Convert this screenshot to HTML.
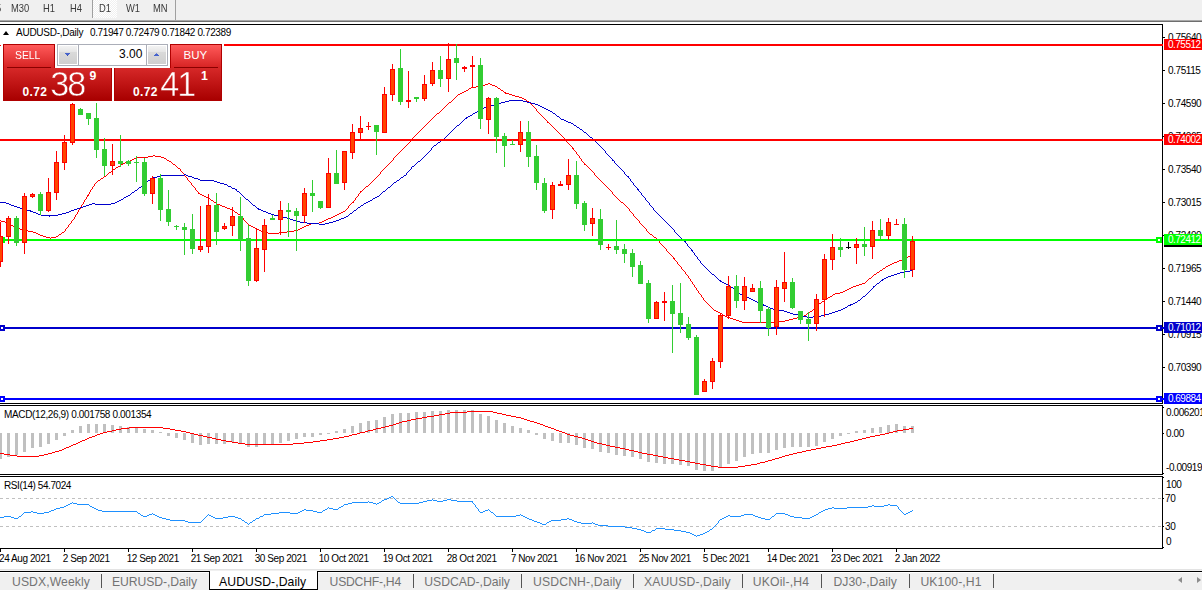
<!DOCTYPE html>
<html><head><meta charset="utf-8"><title>AUDUSD Daily</title>
<style>
html,body{margin:0;padding:0;}
body{width:1202px;height:590px;position:relative;overflow:hidden;background:#fff;font-family:"Liberation Sans",sans-serif;}
#tbar{position:absolute;left:0;top:0;width:1202px;height:20px;background:#F0F0F0;}
#tbar .sh1{position:absolute;left:0;top:20px;width:1202px;height:1px;background:#A9A9A9;}
#tbar .sh2{position:absolute;left:0;top:21px;width:1202px;height:1px;background:#6E6E6E;}
#tbar span{position:absolute;top:3px;font-size:10.2px;color:#3A3A3A;line-height:11px;white-space:nowrap;transform:scaleX(0.92);transform-origin:0 50%;}
#tbar .vs{position:absolute;top:0;width:1px;height:18px;background:#A0A0A0;}
#tbar .d1{position:absolute;left:93px;top:0;width:24px;height:18px;background:repeating-conic-gradient(#FFFFFF 0% 25%,#F0F0F0 0% 50%) 0 0/2px 2px;}
svg{position:absolute;left:0;top:0;}
.ax{position:absolute;left:1168px;font-size:10px;line-height:11px;color:#000;white-space:nowrap;letter-spacing:-0.42px;}
.bx{position:absolute;left:1164px;width:38px;height:11px;box-sizing:border-box;overflow:hidden;}
.bx span{position:absolute;left:4px;top:0;font-size:10px;line-height:11px;white-space:nowrap;letter-spacing:-0.52px;}
.dt{position:absolute;top:553px;font-size:10px;line-height:11px;color:#000;white-space:nowrap;letter-spacing:-0.42px;}
.info{position:absolute;left:16px;top:26.8px;font-size:10px;line-height:11px;color:#000;white-space:pre;transform-origin:0 50%;}
#tri{position:absolute;left:3px;top:31px;width:0;height:0;border-left:3.5px solid transparent;border-right:3.5px solid transparent;border-bottom:4.5px solid #000;}
.pl{position:absolute;left:3px;font-size:10px;line-height:11px;color:#000;white-space:nowrap;transform-origin:0 50%;}
#tabs{position:absolute;left:0;top:570px;width:1202px;height:20px;background:#F0F0F0;}
#tabs .top{position:absolute;left:0;top:1px;width:1202px;height:1px;background:#000;border-bottom:1px solid #fff;}
#tabs .hl{position:absolute;left:0;top:-1px;width:1202px;height:1px;background:#E3E3E3;}
#tabs .actbg{position:absolute;left:209px;top:1px;width:109px;height:19px;background:#fff;border-left:1px solid #000;border-right:1px solid #000;border-bottom:1px solid #000;box-sizing:border-box;}
.tb{position:absolute;top:4px;font-size:12.2px;line-height:16px;color:#737373;white-space:nowrap;transform-origin:0 50%;}
.tb.act{color:#000;}
.sep{position:absolute;top:4px;width:1px;height:14px;background:#555;}
.arr{position:absolute;top:7px;width:0;height:0;border-top:3px solid transparent;border-bottom:3px solid transparent;}
/* trade panel */
#tp{position:absolute;left:0;top:0;}
.red{position:absolute;background:linear-gradient(#FF5A5A,#D42020);border:1px solid #B00000;box-sizing:border-box;}
.red2{position:absolute;background:linear-gradient(#D62828,#A80000);border:1px solid #B00000;border-top:none;box-sizing:border-box;}
.wt{position:absolute;color:#fff;white-space:nowrap;}
</style></head><body>
<div id="tbar"><div class="d1"></div><div class="sh1"></div><div class="sh2"></div>
<span style="left:-4.3px">5</span><span style="left:11px">M30</span><span style="left:43px">H1</span><span style="left:70px">H4</span>
<i class="vs" style="left:92px"></i><span style="left:99px">D1</span><span style="left:126px">W1</span><span style="left:153px">MN</span><i class="vs" style="left:175px;height:20px"></i></div>
<svg width="1202" height="590" viewBox="0 0 1202 590" shape-rendering="crispEdges">
<path d="M720 313h2v1h-2zM807 313h2v1h-2zM36 233h2v1h-2zM268 233h11v1h-11zM897 261h2v1h-2zM716 311h2v1h-2zM810 311h2v1h-2zM5 222h3v1h-3zM319 222h3v1h-3zM1 221h4v1h-4zM322 221h2v1h-2zM714 310h2v1h-2zM469 88h2v1h-2zM498 88h2v1h-2zM38 234h2v1h-2zM59 234h2v1h-2zM650 234h2v1h-2zM908 256h2v1h-2zM458 94h2v1h-2zM509 94h3v1h-3zM742 322h37v1h-37zM136 157h12v1h-12zM161 157h3v1h-3zM845 290h2v1h-2zM222 206h3v1h-3zM733 319h3v1h-3zM789 319h4v1h-4zM28 231h5v1h-5zM261 231h3v1h-3zM287 231h7v1h-7zM33 232h3v1h-3zM62 232h2v1h-2zM264 232h4v1h-4zM279 232h8v1h-8zM673 258h2v1h-2zM904 258h2v1h-2zM482 85h3v1h-3zM492 85h3v1h-3zM813 309h2v1h-2zM220 205h2v1h-2zM116 167h2v1h-2zM853 286h3v1h-3zM476 86h6v1h-6zM495 86h2v1h-2zM736 320h3v1h-3zM785 320h4v1h-4zM727 317h3v1h-3zM797 317h4v1h-4zM331 217h2v1h-2zM40 235h3v1h-3zM217 204h3v1h-3zM527 101h2v1h-2zM851 287h2v1h-2zM739 321h3v1h-3zM779 321h6v1h-6zM488 83h2v1h-2zM869 278h2v1h-2zM109 172h2v1h-2zM449 102h2v1h-2zM512 95h3v1h-3zM23 230h5v1h-5zM259 230h2v1h-2zM294 230h4v1h-4zM856 285h3v1h-3zM888 265h2v1h-2zM880 270h2v1h-2zM8 223h2v1h-2zM311 223h8v1h-8zM198 193h2v1h-2zM123 163h2v1h-2zM235 212h2v1h-2zM341 212h2v1h-2zM485 84h3v1h-3zM490 84h2v1h-2zM437 113h2v1h-2zM723 315h2v1h-2zM804 315h2v1h-2zM15 227h3v1h-3zM253 227h2v1h-2zM302 227h2v1h-2zM46 237h4v1h-4zM51 237h5v1h-5zM654 237h2v1h-2zM214 202h2v1h-2zM352 202h2v1h-2zM621 202h2v1h-2zM830 296h2v1h-2zM339 213h2v1h-2zM18 228h2v1h-2zM255 228h2v1h-2zM300 228h2v1h-2zM515 96h4v1h-4zM366 186h2v1h-2zM125 162h3v1h-3zM840 292h3v1h-3zM232 210h2v1h-2zM20 229h3v1h-3zM257 229h2v1h-2zM298 229h2v1h-2zM13 226h2v1h-2zM251 226h2v1h-2zM304 226h2v1h-2zM326 219h2v1h-2zM11 225h2v1h-2zM249 225h2v1h-2zM306 225h3v1h-3zM101 178h2v1h-2zM886 266h2v1h-2zM899 260h3v1h-3zM200 194h2v1h-2zM225 207h2v1h-2zM324 220h2v1h-2zM309 224h2v1h-2zM230 209h2v1h-2zM877 272h2v1h-2zM238 214h2v1h-2zM337 214h2v1h-2zM822 301h2v1h-2zM132 159h2v1h-2zM118 166h2v1h-2zM519 97h3v1h-3zM113 169h2v1h-2zM835 293h5v1h-5zM471 87h5v1h-5zM730 318h3v1h-3zM793 318h4v1h-4zM121 164h2v1h-2zM173 164h2v1h-2zM584 164h2v1h-2zM572 148h2v1h-2zM819 303h2v1h-2zM43 236h3v1h-3zM56 236h2v1h-2zM178 168h2v1h-2zM862 283h3v1h-3zM206 197h2v1h-2zM894 262h3v1h-3zM328 218h3v1h-3zM859 284h3v1h-3zM87 195h2v1h-2zM202 195h2v1h-2zM333 216h2v1h-2zM153 155h2v1h-2zM98 180h2v1h-2zM462 92h2v1h-2zM504 92h2v1h-2zM148 156h5v1h-5zM155 156h6v1h-6zM906 257h2v1h-2zM910 255h2v1h-2zM134 158h2v1h-2zM164 158h2v1h-2zM204 196h2v1h-2zM883 268h2v1h-2zM828 297h2v1h-2zM460 93h2v1h-2zM505 93h4v1h-4zM847 289h2v1h-2zM725 316h2v1h-2zM801 316h3v1h-3zM833 294h2v1h-2zM208 198h2v1h-2zM130 160h2v1h-2zM167 160h2v1h-2zM128 161h2v1h-2zM169 161h2v1h-2zM902 259h2v1h-2zM849 288h2v1h-2zM360 191h2v1h-2zM104 176h2v1h-2zM825 299h2v1h-2zM335 215h2v1h-2zM718 312h2v1h-2zM466 90h2v1h-2zM501 90h2v1h-2zM343 211h2v1h-2zM227 208h3v1h-3zM522 98h2v1h-2zM524 99h2v1h-2zM211 200h2v1h-2zM874 274h2v1h-2zM547 122h2v1h-2zM843 291h2v1h-2zM892 263h2v1h-2zM464 91h2v1h-2zM890 264h2v1h-2zM61 233h1v1h-1zM649 233h1v1h-1zM706 302h1v1h-1zM821 302h1v1h-1zM676 261h1v1h-1zM71 221h1v2h-1zM246 222h1v1h-1zM639 221h1v2h-1zM441 110h1v1h-1zM536 109h1v2h-1zM245 221h1v1h-1zM410 141h1v1h-1zM566 140h1v2h-1zM691 281h1v1h-1zM866 281h1v1h-1zM812 310h1v1h-1zM672 256h1v1h-1zM394 157h1v1h-1zM579 156h1v2h-1zM697 290h1v1h-1zM81 205h1v2h-1zM348 206h1v2h-1zM626 206h1v1h-1zM712 308h1v1h-1zM815 308h1v1h-1zM661 244h1v1h-1zM64 231h1v1h-1zM647 231h1v1h-1zM648 232h1v1h-1zM90 190h1v2h-1zM196 190h1v1h-1zM362 190h1v1h-1zM610 190h1v1h-1zM402 149h1v1h-1zM573 149h1v1h-1zM713 309h1v1h-1zM662 245h1v1h-1zM418 132h1v1h-1zM558 132h1v1h-1zM349 205h1v1h-1zM625 205h1v1h-1zM177 167h1v1h-1zM385 167h1v1h-1zM588 167h1v1h-1zM694 285h1v2h-1zM106 175h1v1h-1zM184 174h1v2h-1zM378 175h1v1h-1zM595 175h1v1h-1zM398 153h1v1h-1zM576 152h1v2h-1zM74 217h1v2h-1zM242 217h1v1h-1zM635 217h1v1h-1zM58 235h1v1h-1zM652 235h1v1h-1zM82 204h1v1h-1zM350 204h1v1h-1zM624 204h1v1h-1zM451 101h1v1h-1zM695 287h1v1h-1zM100 179h1v1h-1zM187 178h1v2h-1zM374 179h1v1h-1zM599 179h1v1h-1zM689 278h1v1h-1zM182 172h1v1h-1zM380 172h1v2h-1zM593 172h1v1h-1zM529 102h1v1h-1zM457 95h1v1h-1zM65 229h1v2h-1zM646 229h1v2h-1zM679 265h1v1h-1zM664 247h1v1h-1zM683 270h1v1h-1zM70 223h1v1h-1zM247 223h1v1h-1zM640 223h1v1h-1zM89 192h1v2h-1zM359 193h1v1h-1zM612 192h1v2h-1zM172 163h1v1h-1zM389 163h1v1h-1zM584 163h1v1h-1zM77 212h1v2h-1zM631 212h1v1h-1zM687 275h1v1h-1zM873 275h1v1h-1zM539 113h1v1h-1zM67 227h1v1h-1zM644 227h1v1h-1zM91 189h1v1h-1zM195 188h1v2h-1zM363 189h1v1h-1zM609 189h1v1h-1zM83 202h1v2h-1zM681 267h1v2h-1zM885 267h1v1h-1zM701 295h1v2h-1zM711 307h1v1h-1zM816 307h1v1h-1zM237 213h1v1h-1zM632 213h1v1h-1zM66 228h1v1h-1zM645 228h1v1h-1zM456 96h1v1h-1zM442 109h1v1h-1zM93 186h1v1h-1zM193 186h1v1h-1zM606 186h1v1h-1zM171 162h1v1h-1zM390 162h1v1h-1zM583 162h1v1h-1zM698 291h1v2h-1zM78 210h1v2h-1zM345 210h1v1h-1zM629 209h1v2h-1zM68 225h1v2h-1zM643 226h1v1h-1zM73 219h1v1h-1zM243 218h1v2h-1zM637 219h1v1h-1zM642 225h1v1h-1zM111 171h1v1h-1zM181 171h1v1h-1zM381 171h1v1h-1zM592 171h1v1h-1zM375 178h1v1h-1zM598 178h1v1h-1zM680 266h1v1h-1zM675 260h1v1h-1zM425 125h1v1h-1zM551 125h1v1h-1zM88 194h1v1h-1zM358 194h1v2h-1zM613 194h1v1h-1zM690 279h1v2h-1zM868 279h1v1h-1zM80 207h1v2h-1zM627 207h1v1h-1zM433 117h1v1h-1zM543 117h1v1h-1zM0 220h1v1h-1zM72 220h1v1h-1zM244 220h1v1h-1zM638 220h1v1h-1zM216 203h1v1h-1zM351 203h1v1h-1zM623 203h1v1h-1zM10 224h1v1h-1zM69 224h1v1h-1zM248 224h1v1h-1zM641 224h1v1h-1zM79 209h1v1h-1zM346 209h1v1h-1zM85 199h1v1h-1zM210 199h1v1h-1zM355 198h1v2h-1zM618 199h1v1h-1zM685 272h1v2h-1zM76 214h1v1h-1zM633 214h1v2h-1zM705 301h1v1h-1zM166 159h1v1h-1zM393 158h1v2h-1zM581 159h1v2h-1zM84 200h1v2h-1zM213 201h1v1h-1zM353 201h1v1h-1zM620 201h1v1h-1zM413 137h1v1h-1zM563 137h1v1h-1zM426 124h1v1h-1zM550 124h1v1h-1zM107 174h1v1h-1zM379 174h1v1h-1zM594 173h1v2h-1zM176 166h1v1h-1zM386 166h1v1h-1zM587 166h1v1h-1zM455 97h1v1h-1zM180 169h1v2h-1zM383 169h1v1h-1zM590 169h1v1h-1zM699 293h1v1h-1zM497 87h1v1h-1zM703 298h1v2h-1zM827 298h1v1h-1zM388 164h1v1h-1zM403 148h1v1h-1zM448 103h1v1h-1zM530 103h1v1h-1zM443 108h1v1h-1zM535 108h1v1h-1zM707 303h1v1h-1zM112 170h1v1h-1zM382 170h1v1h-1zM591 170h1v1h-1zM412 138h1v2h-1zM565 139h1v1h-1zM653 236h1v1h-1zM115 168h1v1h-1zM384 168h1v1h-1zM589 168h1v1h-1zM92 187h1v2h-1zM364 188h1v1h-1zM608 188h1v1h-1zM692 282h1v2h-1zM86 197h1v2h-1zM356 197h1v1h-1zM616 197h1v1h-1zM452 100h1v1h-1zM526 100h1v1h-1zM419 131h1v1h-1zM557 131h1v1h-1zM677 262h1v2h-1zM432 118h1v1h-1zM544 118h1v1h-1zM636 218h1v1h-1zM693 284h1v1h-1zM405 146h1v1h-1zM571 146h1v1h-1zM614 195h1v1h-1zM75 215h1v2h-1zM241 216h1v1h-1zM634 216h1v1h-1zM396 155h1v1h-1zM578 155h1v1h-1zM188 180h1v1h-1zM373 180h1v1h-1zM600 180h1v1h-1zM94 184h1v2h-1zM192 185h1v1h-1zM368 185h1v1h-1zM605 185h1v1h-1zM395 156h1v1h-1zM420 130h1v1h-1zM556 130h1v1h-1zM673 257h1v1h-1zM671 255h1v1h-1zM708 304h1v1h-1zM818 304h1v2h-1zM96 182h1v1h-1zM190 182h1v1h-1zM371 182h1v1h-1zM602 182h1v1h-1zM580 158h1v1h-1zM87 196h1v1h-1zM357 196h1v1h-1zM615 196h1v1h-1zM684 271h1v1h-1zM879 271h1v1h-1zM95 183h1v1h-1zM191 183h1v2h-1zM370 183h1v1h-1zM603 183h1v1h-1zM404 147h1v1h-1zM572 147h1v1h-1zM682 269h1v1h-1zM882 269h1v1h-1zM722 314h1v1h-1zM806 314h1v1h-1zM198 192h1v1h-1zM360 192h1v1h-1zM702 297h1v1h-1zM696 288h1v2h-1zM700 294h1v1h-1zM617 198h1v1h-1zM392 160h1v1h-1zM391 161h1v1h-1zM582 161h1v1h-1zM670 254h1v1h-1zM912 254h1v1h-1zM674 259h1v1h-1zM436 114h1v1h-1zM540 114h1v1h-1zM564 138h1v1h-1zM427 123h1v1h-1zM549 123h1v1h-1zM400 151h1v1h-1zM575 151h1v1h-1zM197 191h1v1h-1zM611 191h1v1h-1zM439 112h1v1h-1zM538 112h1v1h-1zM185 176h1v1h-1zM377 176h1v1h-1zM596 176h1v1h-1zM424 126h1v1h-1zM552 126h1v1h-1zM415 135h1v1h-1zM561 135h1v1h-1zM663 246h1v1h-1zM865 282h1v1h-1zM709 305h1v1h-1zM431 119h1v1h-1zM545 119h1v1h-1zM103 177h1v1h-1zM186 177h1v1h-1zM376 177h1v1h-1zM597 177h1v1h-1zM430 120h1v1h-1zM546 120h1v1h-1zM240 215h1v1h-1zM120 165h1v1h-1zM175 165h1v1h-1zM387 165h1v1h-1zM586 165h1v1h-1zM809 312h1v1h-1zM108 173h1v1h-1zM183 173h1v1h-1zM468 89h1v1h-1zM500 89h1v1h-1zM447 104h1v1h-1zM531 104h1v1h-1zM407 144h1v1h-1zM569 144h1v1h-1zM401 150h1v1h-1zM574 150h1v1h-1zM50 238h1v1h-1zM656 238h1v1h-1zM423 127h1v1h-1zM553 127h1v1h-1zM234 211h1v1h-1zM630 211h1v1h-1zM347 208h1v1h-1zM628 208h1v1h-1zM454 98h1v1h-1zM97 181h1v1h-1zM189 181h1v1h-1zM372 181h1v1h-1zM601 181h1v1h-1zM409 142h1v1h-1zM567 142h1v1h-1zM434 116h1v1h-1zM542 116h1v1h-1zM194 187h1v1h-1zM365 187h1v1h-1zM607 187h1v1h-1zM453 99h1v1h-1zM876 273h1v1h-1zM397 154h1v1h-1zM577 154h1v1h-1zM422 128h1v1h-1zM554 128h1v1h-1zM666 249h1v2h-1zM417 133h1v1h-1zM559 133h1v1h-1zM354 200h1v1h-1zM619 200h1v1h-1zM411 140h1v1h-1zM686 274h1v1h-1zM445 106h1v1h-1zM533 106h1v1h-1zM832 295h1v1h-1zM429 121h1v1h-1zM547 121h1v1h-1zM665 248h1v1h-1zM428 122h1v1h-1zM399 152h1v1h-1zM446 105h1v1h-1zM532 105h1v1h-1zM414 136h1v1h-1zM562 136h1v1h-1zM440 111h1v1h-1zM537 111h1v1h-1zM406 145h1v1h-1zM570 145h1v1h-1zM369 184h1v1h-1zM604 184h1v1h-1zM657 239h1v1h-1zM688 276h1v2h-1zM872 276h1v1h-1zM503 91h1v1h-1zM421 129h1v1h-1zM555 129h1v1h-1zM408 143h1v1h-1zM568 143h1v1h-1zM867 280h1v1h-1zM667 251h1v1h-1zM704 300h1v1h-1zM824 300h1v1h-1zM668 252h1v1h-1zM444 107h1v1h-1zM534 107h1v1h-1zM416 134h1v1h-1zM560 134h1v1h-1zM660 243h1v1h-1zM435 115h1v1h-1zM541 115h1v1h-1zM678 264h1v1h-1zM710 306h1v1h-1zM817 306h1v1h-1zM659 241h1v2h-1zM871 277h1v1h-1zM658 240h1v1h-1zM669 253h1v1h-1z" fill="#FF0000"/>
<path d="M300 222h7v1h-7zM329 222h4v1h-4zM20 208h3v1h-3zM77 208h3v1h-3zM257 208h2v1h-2zM900 272h4v1h-4zM742 295h2v1h-2zM728 285h2v1h-2zM768 307h2v1h-2zM845 307h2v1h-2zM279 216h4v1h-4zM346 216h2v1h-2zM220 183h4v1h-4zM497 103h4v1h-4zM531 103h4v1h-4zM22 209h4v1h-4zM74 209h3v1h-3zM258 209h3v1h-3zM148 180h2v1h-2zM200 180h14v1h-14zM397 180h2v1h-2zM691 250h2v1h-2zM891 275h3v1h-3zM161 175h23v1h-23zM186 175h2v1h-2zM404 175h2v1h-2zM287 218h3v1h-3zM341 218h3v1h-3zM438 142h2v1h-2zM9 204h2v1h-2zM89 204h3v1h-3zM95 204h16v1h-16zM237 191h2v1h-2zM383 191h2v1h-2zM36 213h2v1h-2zM62 213h4v1h-4zM268 213h3v1h-3zM350 213h2v1h-2zM509 100h14v1h-14zM787 312h3v1h-3zM832 312h3v1h-3zM119 200h2v1h-2zM370 200h2v1h-2zM753 300h2v1h-2zM858 300h2v1h-2zM724 283h2v1h-2zM877 283h2v1h-2zM763 305h3v1h-3zM848 305h3v1h-3zM744 296h3v1h-3zM863 296h2v1h-2zM412 166h2v1h-2zM807 317h6v1h-6zM232 188h3v1h-3zM26 210h5v1h-5zM71 210h3v1h-3zM261 210h2v1h-2zM354 210h2v1h-2zM117 201h2v1h-2zM368 201h2v1h-2zM494 104h3v1h-3zM535 104h3v1h-3zM124 197h2v1h-2zM375 197h2v1h-2zM897 273h3v1h-3zM0 202h6v1h-6zM115 202h2v1h-2zM366 202h2v1h-2zM770 308h3v1h-3zM843 308h2v1h-2zM761 304h3v1h-3zM850 304h3v1h-3zM501 102h4v1h-4zM527 102h4v1h-4zM283 217h4v1h-4zM344 217h2v1h-2zM720 281h2v1h-2zM740 294h2v1h-2zM684 241h2v1h-2zM307 223h12v1h-12zM325 223h4v1h-4zM478 110h2v1h-2zM548 110h2v1h-2zM755 301h2v1h-2zM470 115h2v1h-2zM784 311h3v1h-3zM835 311h3v1h-3zM30 211h3v1h-3zM69 211h2v1h-2zM263 211h3v1h-3zM475 112h2v1h-2zM766 306h2v1h-2zM157 176h4v1h-4zM188 176h4v1h-4zM627 176h2v1h-2zM773 309h6v1h-6zM841 309h2v1h-2zM757 302h2v1h-2zM855 302h2v1h-2zM749 298h2v1h-2zM139 187h2v1h-2zM388 187h2v1h-2zM910 270h3v1h-3zM217 182h3v1h-3zM394 182h2v1h-2zM293 220h3v1h-3zM336 220h3v1h-3zM759 303h2v1h-2zM853 303h2v1h-2zM751 299h2v1h-2zM153 177h4v1h-4zM192 177h2v1h-2zM401 177h2v1h-2zM799 315h4v1h-4zM821 315h3v1h-3zM487 106h3v1h-3zM540 106h2v1h-2zM736 291h2v1h-2zM235 189h2v1h-2zM637 189h2v1h-2zM793 314h6v1h-6zM824 314h5v1h-5zM490 105h4v1h-4zM538 105h2v1h-2zM584 132h2v1h-2zM6 203h3v1h-3zM92 203h3v1h-3zM111 203h4v1h-4zM364 203h2v1h-2zM228 186h3v1h-3zM290 219h3v1h-3zM339 219h2v1h-2zM884 278h2v1h-2zM319 224h6v1h-6zM577 127h2v1h-2zM747 297h2v1h-2zM790 313h3v1h-3zM829 313h3v1h-3zM17 207h3v1h-3zM80 207h3v1h-3zM358 207h2v1h-2zM580 129h2v1h-2zM564 120h2v1h-2zM550 111h2v1h-2zM126 196h2v1h-2zM377 196h2v1h-2zM184 174h2v1h-2zM466 117h2v1h-2zM143 184h2v1h-2zM224 184h3v1h-3zM33 212h3v1h-3zM66 212h3v1h-3zM266 212h2v1h-2zM38 214h3v1h-3zM58 214h4v1h-4zM271 214h3v1h-3zM803 316h4v1h-4zM813 316h8v1h-8zM480 109h2v1h-2zM546 109h2v1h-2zM41 215h17v1h-17zM274 215h5v1h-5zM418 161h2v1h-2zM886 277h2v1h-2zM296 221h4v1h-4zM333 221h3v1h-3zM11 205h3v1h-3zM86 205h3v1h-3zM253 205h2v1h-2zM361 205h2v1h-2zM726 284h2v1h-2zM904 271h6v1h-6zM484 107h3v1h-3zM542 107h2v1h-2zM888 276h3v1h-3zM561 119h3v1h-3zM505 101h4v1h-4zM523 101h4v1h-4zM198 179h2v1h-2zM441 140h2v1h-2zM373 198h2v1h-2zM712 274h2v1h-2zM894 274h3v1h-3zM14 206h3v1h-3zM83 206h3v1h-3zM434 145h2v1h-2zM457 125h2v1h-2zM574 125h2v1h-2zM151 178h2v1h-2zM194 178h4v1h-4zM568 122h3v1h-3zM473 113h2v1h-2zM553 113h2v1h-2zM590 137h2v1h-2zM442 139h2v1h-2zM214 181h3v1h-3zM468 116h2v1h-2zM557 116h2v1h-2zM135 190h2v1h-2zM779 310h5v1h-5zM838 310h3v1h-3zM465 118h2v1h-2zM612 160h2v1h-2zM132 192h2v1h-2zM719 280h2v1h-2zM881 280h2v1h-2zM566 121h2v1h-2zM873 286h2v1h-2zM722 282h2v1h-2zM571 123h2v1h-2zM128 195h2v1h-2zM482 108h2v1h-2zM544 108h2v1h-2zM882 279h2v1h-2zM121 199h2v1h-2zM246 199h2v1h-2zM731 287h2v1h-2zM666 222h1v1h-1zM357 208h1v1h-1zM653 208h1v2h-1zM710 272h1v1h-1zM865 295h1v1h-1zM875 285h1v1h-1zM691 249h1v1h-1zM670 226h1v1h-1zM422 158h1v1h-1zM611 158h1v1h-1zM49 216h1v1h-1zM660 216h1v1h-1zM145 183h1v1h-1zM393 183h1v1h-1zM633 183h1v2h-1zM356 209h1v1h-1zM630 179h1v2h-1zM714 275h1v1h-1zM436 144h1v1h-1zM598 144h1v1h-1zM626 175h1v1h-1zM662 218h1v1h-1zM596 142h1v1h-1zM252 204h1v1h-1zM363 204h1v1h-1zM649 203h1v2h-1zM134 191h1v1h-1zM639 191h1v1h-1zM657 213h1v1h-1zM248 200h1v1h-1zM646 200h1v1h-1zM677 234h1v1h-1zM440 141h1v1h-1zM595 141h1v1h-1zM618 166h1v1h-1zM138 188h1v1h-1zM387 188h1v1h-1zM637 188h1v1h-1zM654 210h1v1h-1zM249 201h1v1h-1zM647 201h1v1h-1zM244 197h1v1h-1zM644 197h1v1h-1zM711 273h1v1h-1zM250 202h1v1h-1zM648 202h1v1h-1zM669 225h1v1h-1zM431 148h1v2h-1zM603 149h1v1h-1zM661 217h1v1h-1zM424 156h1v1h-1zM609 156h1v1h-1zM880 281h1v1h-1zM866 294h1v1h-1zM667 223h1v1h-1zM857 301h1v1h-1zM556 115h1v1h-1zM456 126h1v1h-1zM576 126h1v1h-1zM417 162h1v1h-1zM614 161h1v2h-1zM353 211h1v1h-1zM655 211h1v1h-1zM472 114h1v1h-1zM555 114h1v1h-1zM423 157h1v1h-1zM610 157h1v1h-1zM552 112h1v1h-1zM695 255h1v1h-1zM847 306h1v1h-1zM403 176h1v1h-1zM861 298h1v1h-1zM231 187h1v1h-1zM636 187h1v1h-1zM708 270h1v1h-1zM146 182h1v1h-1zM632 182h1v1h-1zM664 220h1v1h-1zM447 135h1v1h-1zM588 135h1v1h-1zM860 299h1v1h-1zM628 177h1v1h-1zM869 291h1v1h-1zM137 189h1v1h-1zM386 189h1v1h-1zM444 138h1v1h-1zM592 138h1v1h-1zM450 132h1v1h-1zM251 203h1v1h-1zM141 186h1v1h-1zM390 186h1v1h-1zM635 186h1v1h-1zM663 219h1v1h-1zM717 278h1v1h-1zM668 224h1v1h-1zM455 127h1v1h-1zM862 297h1v1h-1zM739 293h1v1h-1zM867 293h1v1h-1zM256 207h1v1h-1zM652 207h1v1h-1zM453 129h1v1h-1zM463 120h1v1h-1zM477 111h1v1h-1zM243 196h1v1h-1zM643 196h1v1h-1zM130 194h1v1h-1zM241 194h1v1h-1zM380 194h1v1h-1zM641 193h1v2h-1zM406 173h1v2h-1zM625 174h1v1h-1zM559 117h1v1h-1zM392 184h1v1h-1zM352 212h1v1h-1zM656 212h1v1h-1zM131 193h1v1h-1zM240 193h1v1h-1zM381 193h1v1h-1zM349 214h1v1h-1zM658 214h1v1h-1zM694 253h1v2h-1zM428 152h1v1h-1zM605 151h1v2h-1zM348 215h1v1h-1zM659 215h1v1h-1zM454 128h1v1h-1zM579 128h1v1h-1zM716 277h1v1h-1zM665 221h1v1h-1zM650 205h1v1h-1zM876 284h1v1h-1zM709 271h1v1h-1zM602 148h1v1h-1zM715 276h1v1h-1zM464 119h1v1h-1zM705 267h1v1h-1zM150 179h1v1h-1zM399 179h1v1h-1zM594 140h1v1h-1zM123 198h1v1h-1zM245 198h1v1h-1zM645 198h1v2h-1zM687 244h1v2h-1zM255 206h1v1h-1zM360 206h1v1h-1zM651 206h1v1h-1zM599 145h1v1h-1zM734 289h1v1h-1zM871 289h1v1h-1zM400 178h1v1h-1zM629 178h1v1h-1zM735 290h1v1h-1zM870 290h1v1h-1zM461 122h1v1h-1zM451 131h1v1h-1zM583 131h1v1h-1zM679 236h1v1h-1zM411 167h1v2h-1zM620 168h1v1h-1zM445 137h1v1h-1zM686 243h1v1h-1zM407 172h1v1h-1zM624 172h1v2h-1zM593 139h1v1h-1zM147 181h1v1h-1zM396 181h1v1h-1zM631 181h1v1h-1zM697 257h1v2h-1zM236 190h1v1h-1zM385 190h1v1h-1zM638 190h1v1h-1zM560 118h1v1h-1zM426 154h1v1h-1zM607 154h1v1h-1zM420 160h1v1h-1zM239 192h1v1h-1zM382 192h1v1h-1zM640 192h1v1h-1zM448 134h1v1h-1zM587 134h1v1h-1zM462 121h1v1h-1zM730 286h1v1h-1zM879 282h1v1h-1zM671 227h1v1h-1zM446 136h1v1h-1zM589 136h1v1h-1zM460 123h1v1h-1zM421 159h1v1h-1zM612 159h1v1h-1zM696 256h1v1h-1zM437 143h1v1h-1zM597 143h1v1h-1zM449 133h1v1h-1zM586 133h1v1h-1zM242 195h1v1h-1zM379 195h1v1h-1zM642 195h1v1h-1zM430 150h1v1h-1zM604 150h1v1h-1zM685 242h1v1h-1zM429 151h1v1h-1zM718 279h1v1h-1zM414 165h1v1h-1zM617 165h1v1h-1zM452 130h1v1h-1zM582 130h1v1h-1zM700 261h1v2h-1zM372 199h1v1h-1zM674 230h1v2h-1zM416 163h1v1h-1zM615 163h1v1h-1zM142 185h1v1h-1zM227 185h1v1h-1zM391 185h1v1h-1zM634 185h1v1h-1zM433 146h1v1h-1zM600 146h1v1h-1zM707 269h1v1h-1zM699 260h1v1h-1zM873 287h1v1h-1zM706 268h1v1h-1zM409 170h1v1h-1zM622 170h1v1h-1zM688 246h1v1h-1zM459 124h1v1h-1zM573 124h1v1h-1zM425 155h1v1h-1zM608 155h1v1h-1zM673 229h1v1h-1zM698 259h1v1h-1zM680 237h1v1h-1zM410 169h1v1h-1zM621 169h1v1h-1zM681 238h1v1h-1zM427 153h1v1h-1zM606 153h1v1h-1zM672 228h1v1h-1zM738 292h1v1h-1zM868 292h1v1h-1zM701 263h1v1h-1zM432 147h1v1h-1zM601 147h1v1h-1zM702 264h1v1h-1zM690 248h1v1h-1zM675 232h1v1h-1zM415 164h1v1h-1zM616 164h1v1h-1zM733 288h1v1h-1zM872 288h1v1h-1zM676 233h1v1h-1zM408 171h1v1h-1zM623 171h1v1h-1zM682 239h1v1h-1zM683 240h1v1h-1zM689 247h1v1h-1zM619 167h1v1h-1zM693 252h1v1h-1zM703 265h1v1h-1zM704 266h1v1h-1zM692 251h1v1h-1zM678 235h1v1h-1z" fill="#0000CC"/>
<rect x="0" y="44" width="1163" height="2" fill="#FF0000"/>
<rect x="0" y="139" width="1163" height="2" fill="#FF0000"/>
<rect x="0" y="239" width="1162" height="2" fill="#00FF00"/>
<rect x="0" y="327" width="1162" height="2" fill="#0000CC"/>
<rect x="0" y="398" width="1162" height="2" fill="#0000FF"/>
<rect x="-1" y="237" width="6" height="6" fill="#00FF00"/>
<rect x="1" y="239" width="2" height="2" fill="#FFFFFF"/>
<rect x="1156" y="237" width="6" height="6" fill="#00FF00"/>
<rect x="1158" y="239" width="2" height="2" fill="#FFFFFF"/>
<rect x="-1" y="325" width="6" height="6" fill="#0000CC"/>
<rect x="1" y="327" width="2" height="2" fill="#FFFFFF"/>
<rect x="1156" y="325" width="6" height="6" fill="#0000CC"/>
<rect x="1158" y="327" width="2" height="2" fill="#FFFFFF"/>
<rect x="-1" y="396" width="6" height="6" fill="#0000FF"/>
<rect x="1" y="398" width="2" height="2" fill="#FFFFFF"/>
<rect x="1156" y="396" width="6" height="6" fill="#0000FF"/>
<rect x="1158" y="398" width="2" height="2" fill="#FFFFFF"/>
<rect x="0" y="222" width="1" height="45" fill="#FF0000"/>
<rect x="-2" y="236" width="5" height="26" fill="#FF0000"/>
<rect x="-1" y="237" width="3" height="24" fill="#FF4500"/>
<rect x="8" y="216" width="1" height="28" fill="#FF0000"/>
<rect x="6" y="218" width="5" height="19" fill="#FF0000"/>
<rect x="7" y="219" width="3" height="17" fill="#FF4500"/>
<rect x="16" y="216" width="1" height="30" fill="#32CD32"/>
<rect x="14" y="218" width="5" height="25" fill="#32CD32"/>
<rect x="24" y="193" width="1" height="61" fill="#FF0000"/>
<rect x="22" y="196" width="5" height="47" fill="#FF0000"/>
<rect x="23" y="197" width="3" height="45" fill="#FF4500"/>
<rect x="32" y="193" width="1" height="5" fill="#FF0000"/>
<rect x="30" y="194" width="5" height="3" fill="#FF0000"/>
<rect x="31" y="195" width="3" height="1" fill="#FF4500"/>
<rect x="40" y="192" width="1" height="23" fill="#32CD32"/>
<rect x="38" y="194" width="5" height="17" fill="#32CD32"/>
<rect x="48" y="178" width="1" height="34" fill="#FF0000"/>
<rect x="46" y="192" width="5" height="19" fill="#FF0000"/>
<rect x="47" y="193" width="3" height="17" fill="#FF4500"/>
<rect x="56" y="151" width="1" height="49" fill="#FF0000"/>
<rect x="54" y="162" width="5" height="31" fill="#FF0000"/>
<rect x="55" y="163" width="3" height="29" fill="#FF4500"/>
<rect x="64" y="135" width="1" height="35" fill="#FF0000"/>
<rect x="62" y="142" width="5" height="21" fill="#FF0000"/>
<rect x="63" y="143" width="3" height="19" fill="#FF4500"/>
<rect x="72" y="103" width="1" height="42" fill="#FF0000"/>
<rect x="70" y="104" width="5" height="39" fill="#FF0000"/>
<rect x="71" y="105" width="3" height="37" fill="#FF4500"/>
<rect x="80" y="108" width="1" height="7" fill="#32CD32"/>
<rect x="78" y="109" width="5" height="6" fill="#32CD32"/>
<rect x="88" y="113" width="1" height="12" fill="#32CD32"/>
<rect x="86" y="113" width="5" height="6" fill="#32CD32"/>
<rect x="96" y="103" width="1" height="55" fill="#32CD32"/>
<rect x="94" y="118" width="5" height="32" fill="#32CD32"/>
<rect x="104" y="138" width="1" height="38" fill="#32CD32"/>
<rect x="102" y="149" width="5" height="17" fill="#32CD32"/>
<rect x="112" y="144" width="1" height="31" fill="#FF0000"/>
<rect x="110" y="161" width="5" height="5" fill="#FF0000"/>
<rect x="111" y="162" width="3" height="3" fill="#FF4500"/>
<rect x="120" y="135" width="1" height="32" fill="#32CD32"/>
<rect x="118" y="161" width="5" height="3" fill="#32CD32"/>
<rect x="128" y="160" width="1" height="6" fill="#32CD32"/>
<rect x="126" y="161" width="5" height="3" fill="#32CD32"/>
<rect x="136" y="156" width="1" height="26" fill="#32CD32"/>
<rect x="134" y="162" width="5" height="1" fill="#32CD32"/>
<rect x="144" y="158" width="1" height="38" fill="#32CD32"/>
<rect x="142" y="162" width="5" height="32" fill="#32CD32"/>
<rect x="152" y="176" width="1" height="28" fill="#FF0000"/>
<rect x="150" y="178" width="5" height="16" fill="#FF0000"/>
<rect x="151" y="179" width="3" height="14" fill="#FF4500"/>
<rect x="160" y="174" width="1" height="47" fill="#32CD32"/>
<rect x="158" y="178" width="5" height="32" fill="#32CD32"/>
<rect x="168" y="190" width="1" height="36" fill="#32CD32"/>
<rect x="166" y="209" width="5" height="13" fill="#32CD32"/>
<rect x="176" y="225" width="1" height="5" fill="#32CD32"/>
<rect x="174" y="226" width="5" height="1" fill="#32CD32"/>
<rect x="184" y="223" width="1" height="32" fill="#32CD32"/>
<rect x="182" y="227" width="5" height="3" fill="#32CD32"/>
<rect x="192" y="214" width="1" height="40" fill="#32CD32"/>
<rect x="190" y="229" width="5" height="20" fill="#32CD32"/>
<rect x="200" y="206" width="1" height="46" fill="#FF0000"/>
<rect x="198" y="246" width="5" height="4" fill="#FF0000"/>
<rect x="199" y="247" width="3" height="2" fill="#FF4500"/>
<rect x="208" y="194" width="1" height="59" fill="#FF0000"/>
<rect x="206" y="205" width="5" height="42" fill="#FF0000"/>
<rect x="207" y="206" width="3" height="40" fill="#FF4500"/>
<rect x="216" y="193" width="1" height="52" fill="#32CD32"/>
<rect x="214" y="205" width="5" height="27" fill="#32CD32"/>
<rect x="224" y="223" width="1" height="7" fill="#FF0000"/>
<rect x="222" y="226" width="5" height="3" fill="#FF0000"/>
<rect x="223" y="227" width="3" height="1" fill="#FF4500"/>
<rect x="232" y="207" width="1" height="29" fill="#FF0000"/>
<rect x="230" y="216" width="5" height="10" fill="#FF0000"/>
<rect x="231" y="217" width="3" height="8" fill="#FF4500"/>
<rect x="240" y="197" width="1" height="54" fill="#32CD32"/>
<rect x="238" y="216" width="5" height="24" fill="#32CD32"/>
<rect x="248" y="225" width="1" height="61" fill="#32CD32"/>
<rect x="246" y="238" width="5" height="43" fill="#32CD32"/>
<rect x="256" y="229" width="1" height="53" fill="#FF0000"/>
<rect x="254" y="248" width="5" height="33" fill="#FF0000"/>
<rect x="255" y="249" width="3" height="31" fill="#FF4500"/>
<rect x="264" y="219" width="1" height="53" fill="#FF0000"/>
<rect x="262" y="225" width="5" height="25" fill="#FF0000"/>
<rect x="263" y="226" width="3" height="23" fill="#FF4500"/>
<rect x="272" y="215" width="1" height="5" fill="#32CD32"/>
<rect x="270" y="218" width="5" height="2" fill="#32CD32"/>
<rect x="280" y="201" width="1" height="34" fill="#FF0000"/>
<rect x="278" y="210" width="5" height="10" fill="#FF0000"/>
<rect x="279" y="211" width="3" height="8" fill="#FF4500"/>
<rect x="288" y="203" width="1" height="34" fill="#32CD32"/>
<rect x="286" y="210" width="5" height="2" fill="#32CD32"/>
<rect x="296" y="208" width="1" height="43" fill="#32CD32"/>
<rect x="294" y="211" width="5" height="5" fill="#32CD32"/>
<rect x="304" y="188" width="1" height="35" fill="#FF0000"/>
<rect x="302" y="193" width="5" height="23" fill="#FF0000"/>
<rect x="303" y="194" width="3" height="21" fill="#FF4500"/>
<rect x="312" y="180" width="1" height="32" fill="#32CD32"/>
<rect x="310" y="193" width="5" height="3" fill="#32CD32"/>
<rect x="320" y="201" width="1" height="8" fill="#32CD32"/>
<rect x="318" y="201" width="5" height="7" fill="#32CD32"/>
<rect x="328" y="158" width="1" height="50" fill="#FF0000"/>
<rect x="326" y="173" width="5" height="35" fill="#FF0000"/>
<rect x="327" y="174" width="3" height="33" fill="#FF4500"/>
<rect x="336" y="150" width="1" height="34" fill="#32CD32"/>
<rect x="334" y="173" width="5" height="11" fill="#32CD32"/>
<rect x="344" y="151" width="1" height="39" fill="#FF0000"/>
<rect x="342" y="151" width="5" height="32" fill="#FF0000"/>
<rect x="343" y="152" width="3" height="30" fill="#FF4500"/>
<rect x="352" y="124" width="1" height="35" fill="#FF0000"/>
<rect x="350" y="132" width="5" height="21" fill="#FF0000"/>
<rect x="351" y="133" width="3" height="19" fill="#FF4500"/>
<rect x="360" y="116" width="1" height="24" fill="#FF0000"/>
<rect x="358" y="128" width="5" height="5" fill="#FF0000"/>
<rect x="359" y="129" width="3" height="3" fill="#FF4500"/>
<rect x="368" y="122" width="1" height="8" fill="#FF0000"/>
<rect x="366" y="126" width="5" height="1" fill="#FF0000"/>
<rect x="376" y="125" width="1" height="30" fill="#32CD32"/>
<rect x="374" y="125" width="5" height="7" fill="#32CD32"/>
<rect x="384" y="87" width="1" height="46" fill="#FF0000"/>
<rect x="382" y="94" width="5" height="39" fill="#FF0000"/>
<rect x="383" y="95" width="3" height="37" fill="#FF4500"/>
<rect x="392" y="64" width="1" height="37" fill="#FF0000"/>
<rect x="390" y="69" width="5" height="26" fill="#FF0000"/>
<rect x="391" y="70" width="3" height="24" fill="#FF4500"/>
<rect x="400" y="49" width="1" height="56" fill="#32CD32"/>
<rect x="398" y="68" width="5" height="34" fill="#32CD32"/>
<rect x="408" y="71" width="1" height="37" fill="#FF0000"/>
<rect x="406" y="100" width="5" height="2" fill="#FF0000"/>
<rect x="416" y="97" width="1" height="5" fill="#32CD32"/>
<rect x="414" y="97" width="5" height="2" fill="#32CD32"/>
<rect x="424" y="75" width="1" height="26" fill="#FF0000"/>
<rect x="422" y="84" width="5" height="15" fill="#FF0000"/>
<rect x="423" y="85" width="3" height="13" fill="#FF4500"/>
<rect x="432" y="62" width="1" height="24" fill="#FF0000"/>
<rect x="430" y="70" width="5" height="14" fill="#FF0000"/>
<rect x="431" y="71" width="3" height="12" fill="#FF4500"/>
<rect x="440" y="56" width="1" height="31" fill="#32CD32"/>
<rect x="438" y="70" width="5" height="9" fill="#32CD32"/>
<rect x="448" y="43" width="1" height="49" fill="#FF0000"/>
<rect x="446" y="59" width="5" height="20" fill="#FF0000"/>
<rect x="447" y="60" width="3" height="18" fill="#FF4500"/>
<rect x="456" y="44" width="1" height="36" fill="#32CD32"/>
<rect x="454" y="58" width="5" height="5" fill="#32CD32"/>
<rect x="464" y="66" width="1" height="6" fill="#FF0000"/>
<rect x="462" y="67" width="5" height="2" fill="#FF0000"/>
<rect x="472" y="56" width="1" height="31" fill="#FF0000"/>
<rect x="470" y="65" width="5" height="2" fill="#FF0000"/>
<rect x="480" y="58" width="1" height="71" fill="#32CD32"/>
<rect x="478" y="65" width="5" height="54" fill="#32CD32"/>
<rect x="488" y="97" width="1" height="37" fill="#FF0000"/>
<rect x="486" y="98" width="5" height="22" fill="#FF0000"/>
<rect x="487" y="99" width="3" height="20" fill="#FF4500"/>
<rect x="496" y="97" width="1" height="56" fill="#32CD32"/>
<rect x="494" y="98" width="5" height="39" fill="#32CD32"/>
<rect x="504" y="133" width="1" height="34" fill="#32CD32"/>
<rect x="502" y="136" width="5" height="10" fill="#32CD32"/>
<rect x="512" y="140" width="1" height="5" fill="#32CD32"/>
<rect x="510" y="144" width="5" height="1" fill="#32CD32"/>
<rect x="520" y="121" width="1" height="31" fill="#FF0000"/>
<rect x="518" y="132" width="5" height="13" fill="#FF0000"/>
<rect x="519" y="133" width="3" height="11" fill="#FF4500"/>
<rect x="528" y="121" width="1" height="46" fill="#32CD32"/>
<rect x="526" y="132" width="5" height="25" fill="#32CD32"/>
<rect x="536" y="145" width="1" height="45" fill="#32CD32"/>
<rect x="534" y="156" width="5" height="27" fill="#32CD32"/>
<rect x="544" y="178" width="1" height="35" fill="#32CD32"/>
<rect x="542" y="183" width="5" height="28" fill="#32CD32"/>
<rect x="552" y="182" width="1" height="37" fill="#FF0000"/>
<rect x="550" y="185" width="5" height="25" fill="#FF0000"/>
<rect x="551" y="186" width="3" height="23" fill="#FF4500"/>
<rect x="560" y="181" width="1" height="5" fill="#FF0000"/>
<rect x="558" y="184" width="5" height="2" fill="#FF0000"/>
<rect x="568" y="159" width="1" height="31" fill="#FF0000"/>
<rect x="566" y="175" width="5" height="10" fill="#FF0000"/>
<rect x="567" y="176" width="3" height="8" fill="#FF4500"/>
<rect x="576" y="161" width="1" height="48" fill="#32CD32"/>
<rect x="574" y="175" width="5" height="29" fill="#32CD32"/>
<rect x="584" y="201" width="1" height="30" fill="#32CD32"/>
<rect x="582" y="203" width="5" height="22" fill="#32CD32"/>
<rect x="592" y="208" width="1" height="28" fill="#FF0000"/>
<rect x="590" y="218" width="5" height="6" fill="#FF0000"/>
<rect x="591" y="219" width="3" height="4" fill="#FF4500"/>
<rect x="600" y="209" width="1" height="41" fill="#32CD32"/>
<rect x="598" y="219" width="5" height="26" fill="#32CD32"/>
<rect x="608" y="244" width="1" height="6" fill="#FF0000"/>
<rect x="606" y="247" width="5" height="1" fill="#FF0000"/>
<rect x="616" y="220" width="1" height="34" fill="#32CD32"/>
<rect x="614" y="246" width="5" height="4" fill="#32CD32"/>
<rect x="624" y="244" width="1" height="19" fill="#32CD32"/>
<rect x="622" y="249" width="5" height="5" fill="#32CD32"/>
<rect x="632" y="249" width="1" height="28" fill="#32CD32"/>
<rect x="630" y="253" width="5" height="14" fill="#32CD32"/>
<rect x="640" y="261" width="1" height="23" fill="#32CD32"/>
<rect x="638" y="265" width="5" height="19" fill="#32CD32"/>
<rect x="648" y="280" width="1" height="43" fill="#32CD32"/>
<rect x="646" y="283" width="5" height="36" fill="#32CD32"/>
<rect x="656" y="301" width="1" height="18" fill="#FF0000"/>
<rect x="654" y="302" width="5" height="17" fill="#FF0000"/>
<rect x="655" y="303" width="3" height="15" fill="#FF4500"/>
<rect x="664" y="292" width="1" height="29" fill="#FF0000"/>
<rect x="662" y="301" width="5" height="2" fill="#FF0000"/>
<rect x="672" y="285" width="1" height="68" fill="#32CD32"/>
<rect x="670" y="301" width="5" height="13" fill="#32CD32"/>
<rect x="680" y="283" width="1" height="50" fill="#32CD32"/>
<rect x="678" y="313" width="5" height="12" fill="#32CD32"/>
<rect x="688" y="317" width="1" height="23" fill="#32CD32"/>
<rect x="686" y="324" width="5" height="14" fill="#32CD32"/>
<rect x="696" y="335" width="1" height="60" fill="#32CD32"/>
<rect x="694" y="337" width="5" height="58" fill="#32CD32"/>
<rect x="704" y="379" width="1" height="13" fill="#FF0000"/>
<rect x="702" y="381" width="5" height="11" fill="#FF0000"/>
<rect x="703" y="382" width="3" height="9" fill="#FF4500"/>
<rect x="712" y="358" width="1" height="31" fill="#FF0000"/>
<rect x="710" y="361" width="5" height="21" fill="#FF0000"/>
<rect x="711" y="362" width="3" height="19" fill="#FF4500"/>
<rect x="720" y="314" width="1" height="54" fill="#FF0000"/>
<rect x="718" y="315" width="5" height="47" fill="#FF0000"/>
<rect x="719" y="316" width="3" height="45" fill="#FF4500"/>
<rect x="728" y="276" width="1" height="43" fill="#FF0000"/>
<rect x="726" y="286" width="5" height="30" fill="#FF0000"/>
<rect x="727" y="287" width="3" height="28" fill="#FF4500"/>
<rect x="736" y="275" width="1" height="33" fill="#32CD32"/>
<rect x="734" y="286" width="5" height="15" fill="#32CD32"/>
<rect x="744" y="277" width="1" height="33" fill="#FF0000"/>
<rect x="742" y="286" width="5" height="15" fill="#FF0000"/>
<rect x="743" y="287" width="3" height="13" fill="#FF4500"/>
<rect x="752" y="284" width="1" height="8" fill="#FF0000"/>
<rect x="750" y="288" width="5" height="4" fill="#FF0000"/>
<rect x="751" y="289" width="3" height="2" fill="#FF4500"/>
<rect x="760" y="281" width="1" height="42" fill="#32CD32"/>
<rect x="758" y="288" width="5" height="23" fill="#32CD32"/>
<rect x="768" y="307" width="1" height="29" fill="#32CD32"/>
<rect x="766" y="309" width="5" height="19" fill="#32CD32"/>
<rect x="776" y="280" width="1" height="55" fill="#FF0000"/>
<rect x="774" y="287" width="5" height="40" fill="#FF0000"/>
<rect x="775" y="288" width="3" height="38" fill="#FF4500"/>
<rect x="784" y="252" width="1" height="50" fill="#FF0000"/>
<rect x="782" y="282" width="5" height="7" fill="#FF0000"/>
<rect x="783" y="283" width="3" height="5" fill="#FF4500"/>
<rect x="792" y="278" width="1" height="31" fill="#32CD32"/>
<rect x="790" y="282" width="5" height="26" fill="#32CD32"/>
<rect x="800" y="311" width="1" height="13" fill="#32CD32"/>
<rect x="798" y="311" width="5" height="9" fill="#32CD32"/>
<rect x="808" y="312" width="1" height="29" fill="#32CD32"/>
<rect x="806" y="319" width="5" height="5" fill="#32CD32"/>
<rect x="816" y="294" width="1" height="37" fill="#FF0000"/>
<rect x="814" y="299" width="5" height="25" fill="#FF0000"/>
<rect x="815" y="300" width="3" height="23" fill="#FF4500"/>
<rect x="824" y="254" width="1" height="63" fill="#FF0000"/>
<rect x="822" y="259" width="5" height="41" fill="#FF0000"/>
<rect x="823" y="260" width="3" height="39" fill="#FF4500"/>
<rect x="832" y="234" width="1" height="36" fill="#FF0000"/>
<rect x="830" y="247" width="5" height="13" fill="#FF0000"/>
<rect x="831" y="248" width="3" height="11" fill="#FF4500"/>
<rect x="840" y="238" width="1" height="19" fill="#32CD32"/>
<rect x="838" y="247" width="5" height="3" fill="#32CD32"/>
<rect x="848" y="242" width="1" height="7" fill="#000"/>
<rect x="846" y="247" width="5" height="1" fill="#000"/>
<rect x="856" y="238" width="1" height="26" fill="#FF0000"/>
<rect x="854" y="244" width="5" height="4" fill="#FF0000"/>
<rect x="855" y="245" width="3" height="2" fill="#FF4500"/>
<rect x="864" y="227" width="1" height="29" fill="#32CD32"/>
<rect x="862" y="244" width="5" height="3" fill="#32CD32"/>
<rect x="872" y="221" width="1" height="38" fill="#FF0000"/>
<rect x="870" y="230" width="5" height="17" fill="#FF0000"/>
<rect x="871" y="231" width="3" height="15" fill="#FF4500"/>
<rect x="880" y="219" width="1" height="20" fill="#32CD32"/>
<rect x="878" y="230" width="5" height="6" fill="#32CD32"/>
<rect x="888" y="218" width="1" height="22" fill="#FF0000"/>
<rect x="886" y="222" width="5" height="14" fill="#FF0000"/>
<rect x="887" y="223" width="3" height="12" fill="#FF4500"/>
<rect x="896" y="219" width="1" height="6" fill="#FF0000"/>
<rect x="894" y="224" width="5" height="1" fill="#FF0000"/>
<rect x="904" y="218" width="1" height="60" fill="#32CD32"/>
<rect x="902" y="224" width="5" height="46" fill="#32CD32"/>
<rect x="912" y="236" width="1" height="41" fill="#FF0000"/>
<rect x="910" y="241" width="5" height="29" fill="#FF0000"/>
<rect x="911" y="242" width="3" height="27" fill="#FF4500"/>
<rect x="-1" y="433" width="3" height="26" fill="#C0C0C0"/>
<rect x="7" y="433" width="3" height="24" fill="#C0C0C0"/>
<rect x="15" y="433" width="3" height="22" fill="#C0C0C0"/>
<rect x="23" y="433" width="3" height="19" fill="#C0C0C0"/>
<rect x="31" y="433" width="3" height="15" fill="#C0C0C0"/>
<rect x="39" y="433" width="3" height="14" fill="#C0C0C0"/>
<rect x="47" y="433" width="3" height="11" fill="#C0C0C0"/>
<rect x="55" y="433" width="3" height="7" fill="#C0C0C0"/>
<rect x="63" y="433" width="3" height="3" fill="#C0C0C0"/>
<rect x="71" y="430" width="3" height="3" fill="#C0C0C0"/>
<rect x="79" y="426" width="3" height="7" fill="#C0C0C0"/>
<rect x="87" y="424" width="3" height="9" fill="#C0C0C0"/>
<rect x="95" y="424" width="3" height="9" fill="#C0C0C0"/>
<rect x="103" y="424" width="3" height="9" fill="#C0C0C0"/>
<rect x="111" y="425" width="3" height="8" fill="#C0C0C0"/>
<rect x="119" y="426" width="3" height="7" fill="#C0C0C0"/>
<rect x="127" y="427" width="3" height="6" fill="#C0C0C0"/>
<rect x="135" y="427" width="3" height="6" fill="#C0C0C0"/>
<rect x="143" y="429" width="3" height="4" fill="#C0C0C0"/>
<rect x="151" y="430" width="3" height="3" fill="#C0C0C0"/>
<rect x="159" y="432" width="3" height="1" fill="#C0C0C0"/>
<rect x="167" y="433" width="3" height="3" fill="#C0C0C0"/>
<rect x="175" y="433" width="3" height="5" fill="#C0C0C0"/>
<rect x="183" y="433" width="3" height="7" fill="#C0C0C0"/>
<rect x="191" y="433" width="3" height="10" fill="#C0C0C0"/>
<rect x="199" y="433" width="3" height="12" fill="#C0C0C0"/>
<rect x="207" y="433" width="3" height="11" fill="#C0C0C0"/>
<rect x="215" y="433" width="3" height="11" fill="#C0C0C0"/>
<rect x="223" y="433" width="3" height="11" fill="#C0C0C0"/>
<rect x="231" y="433" width="3" height="9" fill="#C0C0C0"/>
<rect x="239" y="433" width="3" height="10" fill="#C0C0C0"/>
<rect x="247" y="433" width="3" height="14" fill="#C0C0C0"/>
<rect x="255" y="433" width="3" height="14" fill="#C0C0C0"/>
<rect x="263" y="433" width="3" height="12" fill="#C0C0C0"/>
<rect x="271" y="433" width="3" height="11" fill="#C0C0C0"/>
<rect x="279" y="433" width="3" height="10" fill="#C0C0C0"/>
<rect x="287" y="433" width="3" height="8" fill="#C0C0C0"/>
<rect x="295" y="433" width="3" height="6" fill="#C0C0C0"/>
<rect x="303" y="433" width="3" height="4" fill="#C0C0C0"/>
<rect x="311" y="433" width="3" height="4" fill="#C0C0C0"/>
<rect x="319" y="433" width="3" height="2" fill="#C0C0C0"/>
<rect x="327" y="433" width="3" height="1" fill="#C0C0C0"/>
<rect x="335" y="431" width="3" height="2" fill="#C0C0C0"/>
<rect x="343" y="429" width="3" height="4" fill="#C0C0C0"/>
<rect x="351" y="426" width="3" height="7" fill="#C0C0C0"/>
<rect x="359" y="423" width="3" height="10" fill="#C0C0C0"/>
<rect x="367" y="421" width="3" height="12" fill="#C0C0C0"/>
<rect x="375" y="420" width="3" height="13" fill="#C0C0C0"/>
<rect x="383" y="417" width="3" height="16" fill="#C0C0C0"/>
<rect x="391" y="414" width="3" height="19" fill="#C0C0C0"/>
<rect x="399" y="413" width="3" height="20" fill="#C0C0C0"/>
<rect x="407" y="413" width="3" height="20" fill="#C0C0C0"/>
<rect x="415" y="412" width="3" height="21" fill="#C0C0C0"/>
<rect x="423" y="412" width="3" height="21" fill="#C0C0C0"/>
<rect x="431" y="411" width="3" height="22" fill="#C0C0C0"/>
<rect x="439" y="411" width="3" height="22" fill="#C0C0C0"/>
<rect x="447" y="410" width="3" height="23" fill="#C0C0C0"/>
<rect x="455" y="410" width="3" height="23" fill="#C0C0C0"/>
<rect x="463" y="410" width="3" height="23" fill="#C0C0C0"/>
<rect x="471" y="410" width="3" height="23" fill="#C0C0C0"/>
<rect x="479" y="414" width="3" height="19" fill="#C0C0C0"/>
<rect x="487" y="416" width="3" height="17" fill="#C0C0C0"/>
<rect x="495" y="420" width="3" height="13" fill="#C0C0C0"/>
<rect x="503" y="423" width="3" height="10" fill="#C0C0C0"/>
<rect x="511" y="426" width="3" height="7" fill="#C0C0C0"/>
<rect x="519" y="428" width="3" height="5" fill="#C0C0C0"/>
<rect x="527" y="430" width="3" height="3" fill="#C0C0C0"/>
<rect x="535" y="433" width="3" height="2" fill="#C0C0C0"/>
<rect x="543" y="433" width="3" height="6" fill="#C0C0C0"/>
<rect x="551" y="433" width="3" height="8" fill="#C0C0C0"/>
<rect x="559" y="433" width="3" height="10" fill="#C0C0C0"/>
<rect x="567" y="433" width="3" height="10" fill="#C0C0C0"/>
<rect x="575" y="433" width="3" height="12" fill="#C0C0C0"/>
<rect x="583" y="433" width="3" height="15" fill="#C0C0C0"/>
<rect x="591" y="433" width="3" height="16" fill="#C0C0C0"/>
<rect x="599" y="433" width="3" height="19" fill="#C0C0C0"/>
<rect x="607" y="433" width="3" height="20" fill="#C0C0C0"/>
<rect x="615" y="433" width="3" height="22" fill="#C0C0C0"/>
<rect x="623" y="433" width="3" height="23" fill="#C0C0C0"/>
<rect x="631" y="433" width="3" height="24" fill="#C0C0C0"/>
<rect x="639" y="433" width="3" height="26" fill="#C0C0C0"/>
<rect x="647" y="433" width="3" height="29" fill="#C0C0C0"/>
<rect x="655" y="433" width="3" height="30" fill="#C0C0C0"/>
<rect x="663" y="433" width="3" height="31" fill="#C0C0C0"/>
<rect x="671" y="433" width="3" height="31" fill="#C0C0C0"/>
<rect x="679" y="433" width="3" height="32" fill="#C0C0C0"/>
<rect x="687" y="433" width="3" height="33" fill="#C0C0C0"/>
<rect x="695" y="433" width="3" height="37" fill="#C0C0C0"/>
<rect x="703" y="433" width="3" height="38" fill="#C0C0C0"/>
<rect x="711" y="433" width="3" height="38" fill="#C0C0C0"/>
<rect x="719" y="433" width="3" height="35" fill="#C0C0C0"/>
<rect x="727" y="433" width="3" height="31" fill="#C0C0C0"/>
<rect x="735" y="433" width="3" height="28" fill="#C0C0C0"/>
<rect x="743" y="433" width="3" height="24" fill="#C0C0C0"/>
<rect x="751" y="433" width="3" height="21" fill="#C0C0C0"/>
<rect x="759" y="433" width="3" height="20" fill="#C0C0C0"/>
<rect x="767" y="433" width="3" height="20" fill="#C0C0C0"/>
<rect x="775" y="433" width="3" height="17" fill="#C0C0C0"/>
<rect x="783" y="433" width="3" height="15" fill="#C0C0C0"/>
<rect x="791" y="433" width="3" height="14" fill="#C0C0C0"/>
<rect x="799" y="433" width="3" height="14" fill="#C0C0C0"/>
<rect x="807" y="433" width="3" height="14" fill="#C0C0C0"/>
<rect x="815" y="433" width="3" height="13" fill="#C0C0C0"/>
<rect x="823" y="433" width="3" height="9" fill="#C0C0C0"/>
<rect x="831" y="433" width="3" height="6" fill="#C0C0C0"/>
<rect x="839" y="433" width="3" height="3" fill="#C0C0C0"/>
<rect x="847" y="433" width="3" height="1" fill="#C0C0C0"/>
<rect x="855" y="431" width="3" height="2" fill="#C0C0C0"/>
<rect x="863" y="430" width="3" height="3" fill="#C0C0C0"/>
<rect x="871" y="428" width="3" height="5" fill="#C0C0C0"/>
<rect x="879" y="427" width="3" height="6" fill="#C0C0C0"/>
<rect x="887" y="425" width="3" height="8" fill="#C0C0C0"/>
<rect x="895" y="424" width="3" height="9" fill="#C0C0C0"/>
<rect x="903" y="426" width="3" height="7" fill="#C0C0C0"/>
<rect x="911" y="426" width="3" height="7" fill="#C0C0C0"/>
<path d="M121 428h8v1h-8zM163 428h7v1h-7zM376 428h5v1h-5zM551 428h3v1h-3zM909 428h4v1h-4zM4 454h6v1h-6zM44 454h4v1h-4zM647 454h6v1h-6zM789 454h4v1h-4zM73 444h3v1h-3zM245 444h48v1h-48zM602 444h4v1h-4zM837 444h4v1h-4zM434 415h5v1h-5zM506 415h5v1h-5zM416 418h6v1h-6zM521 418h3v1h-3zM100 433h3v1h-3zM190 433h4v1h-4zM357 433h3v1h-3zM565 433h2v1h-2zM885 433h4v1h-4zM439 414h6v1h-6zM502 414h4v1h-4zM0 453h4v1h-4zM48 453h4v1h-4zM642 453h5v1h-5zM793 453h4v1h-4zM62 449h2v1h-2zM625 449h4v1h-4zM811 449h5v1h-5zM690 462h5v1h-5zM760 462h5v1h-5zM674 459h5v1h-5zM772 459h3v1h-3zM706 465h5v1h-5zM745 465h6v1h-6zM85 439h2v1h-2zM216 439h5v1h-5zM327 439h6v1h-6zM585 439h3v1h-3zM858 439h4v1h-4zM396 423h3v1h-3zM537 423h3v1h-3zM411 419h5v1h-5zM524 419h3v1h-3zM95 435h2v1h-2zM198 435h5v1h-5zM349 435h3v1h-3zM570 435h4v1h-4zM875 435h5v1h-5zM82 440h3v1h-3zM221 440h5v1h-5zM320 440h7v1h-7zM588 440h3v1h-3zM854 440h4v1h-4zM52 452h3v1h-3zM638 452h4v1h-4zM797 452h5v1h-5zM422 417h5v1h-5zM516 417h5v1h-5zM103 432h4v1h-4zM186 432h4v1h-4zM360 432h5v1h-5zM562 432h3v1h-3zM889 432h4v1h-4zM407 420h4v1h-4zM527 420h3v1h-3zM59 450h3v1h-3zM629 450h5v1h-5zM806 450h5v1h-5zM112 430h4v1h-4zM175 430h6v1h-6zM368 430h5v1h-5zM556 430h3v1h-3zM897 430h6v1h-6zM89 437h3v1h-3zM207 437h5v1h-5zM339 437h5v1h-5zM578 437h4v1h-4zM866 437h4v1h-4zM107 431h5v1h-5zM181 431h5v1h-5zM365 431h3v1h-3zM559 431h3v1h-3zM893 431h4v1h-4zM80 441h2v1h-2zM226 441h6v1h-6zM313 441h7v1h-7zM591 441h3v1h-3zM850 441h4v1h-4zM385 426h4v1h-4zM545 426h3v1h-3zM445 413h5v1h-5zM497 413h5v1h-5zM450 412h17v1h-17zM493 412h4v1h-4zM711 466h7v1h-7zM738 466h7v1h-7zM64 448h2v1h-2zM620 448h5v1h-5zM816 448h5v1h-5zM129 427h34v1h-34zM381 427h4v1h-4zM548 427h3v1h-3zM116 429h5v1h-5zM170 429h5v1h-5zM373 429h3v1h-3zM554 429h2v1h-2zM903 429h6v1h-6zM10 455h7v1h-7zM39 455h5v1h-5zM653 455h5v1h-5zM785 455h4v1h-4zM427 416h7v1h-7zM511 416h5v1h-5zM402 421h5v1h-5zM530 421h4v1h-4zM679 460h6v1h-6zM768 460h4v1h-4zM695 463h5v1h-5zM757 463h3v1h-3zM69 446h2v1h-2zM610 446h5v1h-5zM826 446h6v1h-6zM76 443h2v1h-2zM238 443h7v1h-7zM293 443h11v1h-11zM597 443h5v1h-5zM841 443h4v1h-4zM92 436h3v1h-3zM203 436h4v1h-4zM344 436h5v1h-5zM574 436h4v1h-4zM870 436h5v1h-5zM87 438h2v1h-2zM212 438h4v1h-4zM333 438h6v1h-6zM582 438h3v1h-3zM862 438h4v1h-4zM78 442h2v1h-2zM232 442h6v1h-6zM304 442h9v1h-9zM594 442h3v1h-3zM845 442h5v1h-5zM97 434h3v1h-3zM194 434h4v1h-4zM352 434h5v1h-5zM567 434h3v1h-3zM880 434h5v1h-5zM663 457h5v1h-5zM779 457h3v1h-3zM467 411h26v1h-26zM700 464h6v1h-6zM751 464h6v1h-6zM718 467h20v1h-20zM55 451h4v1h-4zM634 451h4v1h-4zM802 451h4v1h-4zM17 456h22v1h-22zM658 456h5v1h-5zM782 456h3v1h-3zM71 445h2v1h-2zM606 445h4v1h-4zM832 445h5v1h-5zM668 458h6v1h-6zM775 458h4v1h-4zM66 447h3v1h-3zM615 447h5v1h-5zM821 447h5v1h-5zM393 424h3v1h-3zM540 424h3v1h-3zM685 461h5v1h-5zM765 461h3v1h-3zM399 422h3v1h-3zM534 422h3v1h-3zM389 425h4v1h-4zM543 425h2v1h-2z" fill="#FF0000"/>
<line x1="0" y1="498.5" x2="1162" y2="498.5" stroke="#C0C0C0" stroke-width="1" stroke-dasharray="3 3"/>
<line x1="0" y1="526.5" x2="1162" y2="526.5" stroke="#C0C0C0" stroke-width="1" stroke-dasharray="3 3"/>
<path d="M608 526h17v1h-17zM24 512h7v1h-7zM33 512h4v1h-4zM44 512h5v1h-5zM279 512h11v1h-11zM298 512h2v1h-2zM317 512h5v1h-5zM480 512h3v1h-3zM491 512h2v1h-2zM819 512h2v1h-2zM908 512h2v1h-2zM423 501h4v1h-4zM437 501h6v1h-6zM457 501h16v1h-16zM141 515h2v1h-2zM147 515h2v1h-2zM155 515h2v1h-2zM209 515h2v1h-2zM516 515h4v1h-4zM521 515h2v1h-2zM728 515h2v1h-2zM741 515h3v1h-3zM753 515h2v1h-2zM788 515h2v1h-2zM814 515h2v1h-2zM51 510h3v1h-3zM98 510h4v1h-4zM302 510h2v1h-2zM306 510h7v1h-7zM323 510h2v1h-2zM485 510h3v1h-3zM823 510h2v1h-2zM68 504h2v1h-2zM77 504h12v1h-12zM344 504h4v1h-4zM888 504h2v1h-2zM382 500h2v1h-2zM427 500h5v1h-5zM433 500h4v1h-4zM443 500h4v1h-4zM451 500h6v1h-6zM637 529h4v1h-4zM665 529h9v1h-9zM710 529h2v1h-2zM4 516h7v1h-7zM19 516h2v1h-2zM143 516h4v1h-4zM157 516h2v1h-2zM211 516h2v1h-2zM228 516h7v1h-7zM260 516h3v1h-3zM496 516h20v1h-20zM523 516h2v1h-2zM726 516h2v1h-2zM730 516h11v1h-11zM755 516h3v1h-3zM772 516h2v1h-2zM790 516h4v1h-4zM812 516h2v1h-2zM70 503h2v1h-2zM73 503h4v1h-4zM348 503h4v1h-4zM373 503h3v1h-3zM377 503h2v1h-2zM400 503h19v1h-19zM64 506h2v1h-2zM90 506h2v1h-2zM341 506h2v1h-2zM868 506h4v1h-4zM874 506h10v1h-10zM542 524h4v1h-4zM595 524h3v1h-3zM14 518h4v1h-4zM162 518h4v1h-4zM215 518h8v1h-8zM238 518h3v1h-3zM256 518h3v1h-3zM527 518h2v1h-2zM567 518h2v1h-2zM722 518h2v1h-2zM761 518h4v1h-4zM802 518h8v1h-8zM352 502h16v1h-16zM369 502h4v1h-4zM379 502h2v1h-2zM398 502h2v1h-2zM419 502h4v1h-4zM644 531h2v1h-2zM681 531h5v1h-5zM707 531h2v1h-2zM0 517h4v1h-4zM11 517h3v1h-3zM159 517h3v1h-3zM213 517h2v1h-2zM223 517h5v1h-5zM235 517h3v1h-3zM525 517h2v1h-2zM724 517h2v1h-2zM758 517h3v1h-3zM794 517h8v1h-8zM810 517h2v1h-2zM60 507h4v1h-4zM92 507h2v1h-2zM339 507h2v1h-2zM832 507h2v1h-2zM847 507h21v1h-21zM31 511h2v1h-2zM49 511h2v1h-2zM102 511h35v1h-35zM300 511h2v1h-2zM313 511h4v1h-4zM483 511h2v1h-2zM821 511h2v1h-2zM910 511h2v1h-2zM37 513h7v1h-7zM138 513h2v1h-2zM271 513h8v1h-8zM290 513h8v1h-8zM776 513h9v1h-9zM906 513h2v1h-2zM166 519h4v1h-4zM529 519h3v1h-3zM561 519h6v1h-6zM569 519h3v1h-3zM720 519h2v1h-2zM765 519h5v1h-5zM66 505h2v1h-2zM872 505h2v1h-2zM884 505h4v1h-4zM890 505h7v1h-7zM149 514h3v1h-3zM153 514h2v1h-2zM264 514h7v1h-7zM744 514h9v1h-9zM785 514h3v1h-3zM816 514h2v1h-2zM904 514h2v1h-2zM170 520h15v1h-15zM242 520h2v1h-2zM253 520h2v1h-2zM532 520h2v1h-2zM551 520h10v1h-10zM572 520h2v1h-2zM632 528h5v1h-5zM656 528h9v1h-9zM188 522h13v1h-13zM245 522h2v1h-2zM250 522h2v1h-2zM537 522h3v1h-3zM547 522h2v1h-2zM577 522h4v1h-4zM54 509h2v1h-2zM96 509h2v1h-2zM304 509h2v1h-2zM325 509h2v1h-2zM333 509h5v1h-5zM825 509h3v1h-3zM56 508h4v1h-4zM94 508h2v1h-2zM329 508h4v1h-4zM828 508h4v1h-4zM834 508h13v1h-13zM641 530h3v1h-3zM652 530h3v1h-3zM674 530h7v1h-7zM540 523h2v1h-2zM581 523h11v1h-11zM593 523h2v1h-2zM625 527h7v1h-7zM694 535h2v1h-2zM697 535h3v1h-3zM384 499h3v1h-3zM447 499h4v1h-4zM598 525h10v1h-10zM391 496h2v1h-2zM185 521h3v1h-3zM534 521h3v1h-3zM549 521h2v1h-2zM574 521h3v1h-3zM646 532h5v1h-5zM686 532h4v1h-4zM705 532h2v1h-2zM389 497h2v1h-2zM692 534h2v1h-2zM700 534h3v1h-3zM690 533h2v1h-2zM703 533h2v1h-2zM387 498h2v1h-2zM714 526h1v1h-1zM137 512h1v1h-1zM902 512h1v1h-1zM368 501h1v1h-1zM381 501h1v1h-1zM397 501h1v1h-1zM21 515h1v1h-1zM207 515h1v1h-1zM263 515h1v1h-1zM495 515h1v1h-1zM774 515h1v1h-1zM478 509h1v2h-1zM489 510h1v1h-1zM900 510h1v1h-1zM912 510h1v1h-1zM376 504h1v1h-1zM474 504h1v1h-1zM396 500h1v1h-1zM655 529h1v1h-1zM206 516h1v1h-1zM473 503h1v1h-1zM475 505h1v2h-1zM897 506h1v1h-1zM248 524h1v1h-1zM716 524h1v1h-1zM204 518h1v1h-1zM770 518h1v1h-1zM72 502h1v1h-1zM472 502h1v1h-1zM651 531h1v1h-1zM18 517h1v1h-1zM205 517h1v1h-1zM259 517h1v1h-1zM771 517h1v1h-1zM328 507h1v1h-1zM476 507h1v1h-1zM898 507h1v2h-1zM322 511h1v1h-1zM479 511h1v1h-1zM490 511h1v1h-1zM901 511h1v1h-1zM23 513h1v1h-1zM152 513h1v1h-1zM493 513h1v1h-1zM818 513h1v1h-1zM903 513h1v1h-1zM203 519h1v1h-1zM241 519h1v1h-1zM255 519h1v1h-1zM89 505h1v1h-1zM343 505h1v1h-1zM22 514h1v1h-1zM140 514h1v1h-1zM208 514h1v1h-1zM494 514h1v1h-1zM520 514h1v1h-1zM775 514h1v1h-1zM202 520h1v1h-1zM719 520h1v1h-1zM712 528h1v1h-1zM592 522h1v1h-1zM718 521h1v2h-1zM488 509h1v1h-1zM899 509h1v1h-1zM327 508h1v1h-1zM338 508h1v1h-1zM477 508h1v1h-1zM709 530h1v1h-1zM247 523h1v1h-1zM249 523h1v1h-1zM546 523h1v1h-1zM717 523h1v1h-1zM713 527h1v1h-1zM395 499h1v1h-1zM432 499h1v1h-1zM715 525h1v1h-1zM201 521h1v1h-1zM244 521h1v1h-1zM252 521h1v1h-1zM393 497h1v1h-1zM394 498h1v1h-1zM696 536h1v1h-1z" fill="#1E90FF"/>
<rect x="0" y="24" width="1163" height="1" fill="#000"/>
<rect x="1162" y="24" width="1" height="380" fill="#000"/>
<rect x="0" y="403" width="1163" height="1" fill="#000"/>
<rect x="0" y="405" width="1163" height="1" fill="#000"/>
<rect x="1162" y="405" width="1" height="70" fill="#000"/>
<rect x="0" y="474" width="1163" height="1" fill="#000"/>
<rect x="0" y="476" width="1163" height="1" fill="#000"/>
<rect x="1162" y="476" width="1" height="73" fill="#000"/>
<rect x="0" y="548" width="1163" height="1" fill="#000"/>
<rect x="1162" y="44" width="1" height="2" fill="#FF0000"/>
<rect x="1162" y="139" width="1" height="2" fill="#FF0000"/>
<rect x="1162" y="327" width="2" height="2" fill="#0000CC"/>
<rect x="1162" y="398" width="2" height="2" fill="#0000FF"/>
<rect x="1163" y="37" width="2" height="1" fill="#000"/>
<rect x="1163" y="70" width="2" height="1" fill="#000"/>
<rect x="1163" y="103" width="2" height="1" fill="#000"/>
<rect x="1163" y="136" width="2" height="1" fill="#000"/>
<rect x="1163" y="169" width="2" height="1" fill="#000"/>
<rect x="1163" y="202" width="2" height="1" fill="#000"/>
<rect x="1163" y="235" width="2" height="1" fill="#000"/>
<rect x="1163" y="268" width="2" height="1" fill="#000"/>
<rect x="1163" y="301" width="2" height="1" fill="#000"/>
<rect x="1163" y="334" width="2" height="1" fill="#000"/>
<rect x="1163" y="367" width="2" height="1" fill="#000"/>
<rect x="1163" y="407" width="1" height="1" fill="#000"/>
<rect x="1163" y="433" width="1" height="1" fill="#000"/>
<rect x="1163" y="473" width="1" height="1" fill="#000"/>
<rect x="1163" y="477" width="1" height="1" fill="#000"/>
<rect x="1163" y="498" width="1" height="1" fill="#000"/>
<rect x="1163" y="526" width="1" height="1" fill="#000"/>
<rect x="1163" y="547" width="1" height="1" fill="#000"/>
<rect x="0" y="549" width="1" height="3" fill="#000"/>
<rect x="64" y="549" width="1" height="3" fill="#000"/>
<rect x="128" y="549" width="1" height="3" fill="#000"/>
<rect x="192" y="549" width="1" height="3" fill="#000"/>
<rect x="256" y="549" width="1" height="3" fill="#000"/>
<rect x="320" y="549" width="1" height="3" fill="#000"/>
<rect x="384" y="549" width="1" height="3" fill="#000"/>
<rect x="448" y="549" width="1" height="3" fill="#000"/>
<rect x="512" y="549" width="1" height="3" fill="#000"/>
<rect x="576" y="549" width="1" height="3" fill="#000"/>
<rect x="640" y="549" width="1" height="3" fill="#000"/>
<rect x="704" y="549" width="1" height="3" fill="#000"/>
<rect x="768" y="549" width="1" height="3" fill="#000"/>
<rect x="832" y="549" width="1" height="3" fill="#000"/>
<rect x="896" y="549" width="1" height="3" fill="#000"/>
</svg>
<div id="tri"></div><div class="info" style="letter-spacing:-0.25px">AUDUSD-,Daily</div><div class="info" style="left:90px;letter-spacing:-0.39px">0.71947 0.72479 0.71842 0.72389</div>
<div class="pl" style="top:409px;left:4px;letter-spacing:-0.36px">MACD(12,26,9) 0.001758 0.001354</div>
<div class="pl" style="top:480px;left:4px;letter-spacing:-0.43px">RSI(14) 54.7024</div>
<div class="ax" style="top:32px">0.75640</div>
<div class="ax" style="top:65px">0.75115</div>
<div class="ax" style="top:98px">0.74590</div>
<div class="ax" style="top:131px">0.74065</div>
<div class="ax" style="top:164px">0.73540</div>
<div class="ax" style="top:197px">0.73015</div>
<div class="ax" style="top:230px">0.72490</div>
<div class="ax" style="top:263px">0.71965</div>
<div class="ax" style="top:296px">0.71440</div>
<div class="ax" style="top:329px">0.70915</div>
<div class="ax" style="top:362px">0.70390</div>
<div class="ax" style="top:407px;left:1166px">0.006201</div>
<div class="ax" style="top:428px;left:1166px">0.00</div>
<div class="ax" style="top:462px;left:1166px">-0.00919</div>
<div class="ax" style="top:479px;left:1166px">100</div>
<div class="ax" style="top:493px;left:1165px">70</div>
<div class="ax" style="top:521px;left:1165px">30</div>
<div class="ax" style="top:536px;left:1166px">0</div>
<div class="bx" style="top:236px;background:#000;color:#fff"><span>0.72389</span></div>
<div class="bx" style="top:39px;background:#FF0000;color:#fff"><span>0.75512</span></div>
<div class="bx" style="top:134px;background:#FF0000;color:#fff"><span>0.74002</span></div>
<div class="bx" style="top:234px;background:#00FF00;color:#fff"><span>0.72412</span></div>
<div class="bx" style="top:322px;background:#0000CC;color:#fff"><span>0.71012</span></div>
<div class="bx" style="top:393px;background:#0000FF;color:#fff"><span>0.69884</span></div>
<div class="dt" style="left:-1px">24 Aug 2021</div>
<div class="dt" style="left:62.7px">2 Sep 2021</div>
<div class="dt" style="left:126.7px">12 Sep 2021</div>
<div class="dt" style="left:190.7px">21 Sep 2021</div>
<div class="dt" style="left:254.7px">30 Sep 2021</div>
<div class="dt" style="left:318.7px">10 Oct 2021</div>
<div class="dt" style="left:382.7px">19 Oct 2021</div>
<div class="dt" style="left:446.7px">28 Oct 2021</div>
<div class="dt" style="left:510.7px">7 Nov 2021</div>
<div class="dt" style="left:574.7px">16 Nov 2021</div>
<div class="dt" style="left:638.7px">25 Nov 2021</div>
<div class="dt" style="left:702.7px">5 Dec 2021</div>
<div class="dt" style="left:766.7px">14 Dec 2021</div>
<div class="dt" style="left:830.7px">23 Dec 2021</div>
<div class="dt" style="left:894.7px">2 Jan 2022</div>
<div id="tp">
<div style="position:absolute;left:1px;top:43px;width:223px;height:59px;background:#fff"></div><div style="position:absolute;left:0;top:44px;width:1px;height:1px;background:#fff"></div>
<div style="position:absolute;left:55px;top:44px;width:115px;height:24px;background:#fff"></div>
<div class="red" style="left:3px;top:44px;width:52px;height:25px;border-bottom:none"></div>
<div class="red" style="left:170px;top:44px;width:52px;height:25px;border-bottom:none"></div>
<div class="red2" style="left:3px;top:68px;width:109px;height:33px"></div>
<div class="red2" style="left:114px;top:68px;width:108px;height:33px"></div>
<div style="position:absolute;left:7px;top:67px;width:44px;height:1px;background:#8B0000"></div>
<div style="position:absolute;left:174px;top:67px;width:44px;height:1px;background:#8B0000"></div>
<div class="wt" style="left:15px;top:48px;font-size:11.5px;line-height:14px;transform:scaleX(0.9);transform-origin:0 50%">SELL</div>
<div class="wt" style="left:183.5px;top:48px;font-size:11.5px;line-height:14px">BUY</div>
<div class="wt" style="left:22.5px;top:84.6px;font-size:12px;line-height:14px;font-weight:bold;letter-spacing:0.35px">0.72</div>
<div class="wt" style="left:133px;top:84.6px;font-size:12px;line-height:14px;font-weight:bold;letter-spacing:0.35px">0.72</div>
<svg width="230" height="110" viewBox="0 0 230 110" shape-rendering="auto" style="left:0;top:0"><defs><mask id="thin" maskUnits="userSpaceOnUse" x="0" y="0" width="230" height="110"><g font-family="Liberation Sans, sans-serif" font-size="34.2" fill="#fff" stroke="#000" stroke-width="0.55" letter-spacing="-2"><text x="50.3" y="96.2">38</text><text x="160.3" y="96.2">41</text></g></mask></defs><rect x="45" y="66" width="160" height="34" fill="#fff" mask="url(#thin)"/></svg>
<div class="wt" style="left:89.5px;top:68.5px;font-size:12.3px;line-height:14px;font-weight:bold">9</div>
<div class="wt" style="left:201px;top:68.5px;font-size:12.3px;line-height:14px;font-weight:bold">1</div>
<div style="position:absolute;left:57px;top:44px;width:111px;height:22px;border:1px solid #ABAEB8;box-sizing:border-box;background:#fff"></div>
<div style="position:absolute;left:59px;top:46px;width:18px;height:18px;background:linear-gradient(#F3F3F3 0%,#E5E5E5 33%,#DADADA 34%,#CFCFCF 100%)"></div>
<div style="position:absolute;left:148px;top:46px;width:18px;height:18px;background:linear-gradient(#F3F3F3 0%,#E5E5E5 33%,#DADADA 34%,#CFCFCF 100%)"></div>
<div style="position:absolute;left:78px;top:45px;width:1px;height:20px;background:#ABAEB8"></div>
<div style="position:absolute;left:146px;top:45px;width:1px;height:20px;background:#ABAEB8"></div>
<svg width="230" height="110" viewBox="0 0 230 110" style="left:0;top:0" shape-rendering="crispEdges"><g fill="#4663CC"><rect x="65" y="53" width="5" height="1"/><rect x="66" y="54" width="3" height="1"/><rect x="67" y="55" width="1" height="1" fill="#3A4FA8"/><rect x="156" y="53" width="1" height="1" fill="#6E86DA"/><rect x="155" y="54" width="3" height="1"/><rect x="154" y="55" width="5" height="1"/></g></svg>
<div style="position:absolute;left:119px;top:47px;font-size:12px;line-height:15px;color:#000;white-space:nowrap">3.00</div>
</div>
<div id="tabs"><div class="hl"></div><div class="top"></div><div class="actbg"></div>
<span class="tb" style="left:12px;letter-spacing:0.085px">USDX,Weekly</span>
<span class="tb" style="left:112px;letter-spacing:-0.083px">EURUSD-,Daily</span>
<span class="tb act" style="left:219px;letter-spacing:0.101px">AUDUSD-,Daily</span>
<span class="tb" style="left:329.6px;letter-spacing:-0.249px">USDCHF-,H4</span>
<span class="tb" style="left:424.3px;letter-spacing:-0.030px">USDCAD-,Daily</span>
<span class="tb" style="left:533px;letter-spacing:0.149px">USDCNH-,Daily</span>
<span class="tb" style="left:644px;letter-spacing:0.099px">XAUUSD-,Daily</span>
<span class="tb" style="left:752.7px;letter-spacing:0.198px">UKOil-,H4</span>
<span class="tb" style="left:833.4px;letter-spacing:0.050px">DJ30-,Daily</span>
<span class="tb" style="left:920.4px;letter-spacing:0.094px">UK100-,H1</span>
<i class="sep" style="left:101px"></i>
<i class="sep" style="left:413px"></i>
<i class="sep" style="left:521px"></i>
<i class="sep" style="left:633px"></i>
<i class="sep" style="left:742px"></i>
<i class="sep" style="left:821px"></i>
<i class="sep" style="left:909px"></i>
<i class="sep" style="left:993px"></i>
<div class="arr" style="left:1177.5px;border-right:4px solid #8C8C8C"></div>
<div class="arr" style="left:1196.7px;border-left:4px solid #8C8C8C"></div>
</div>
</body></html>
